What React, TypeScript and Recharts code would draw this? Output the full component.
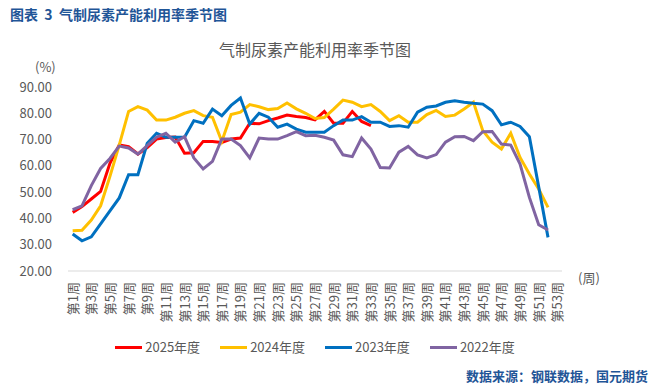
import React from 'react';
import { LineChart, Line, XAxis, YAxis } from 'recharts';

// weekly capacity utilisation (%) of gas-based urea
const weeks = Array.from({ length: 53 }, (_, i) => `第${i + 1}周`);

const y2025 = [
  42.3, 44.5, 47.4, 50.3, 61, 68, 67.3, 64.5, 67, 70.2, 70.8, 71, 64.8, 65, 69.3, 69.3, 68.9,
  70.2, 70.6, 76.2, 76, 77.2, 78.2, 79.3, 78.8, 78.4, 77.5, 80.7, 76.2, 76.2, 80.7, 76.9, 75.3,
];
const y2024 = [
  35.3, 35.5, 39.4, 44.8, 56, 68, 80.7, 82.5, 81.2, 77.4, 77.4, 78.5, 80, 81, 79.1, 78.5, 69.3,
  79.5, 80.4, 83.3, 82.5, 81.4, 81.8, 83.9, 81.7, 80, 78, 78.4, 81.6, 85, 84.2, 82.5, 83.3, 80.7,
  77.2, 79.1, 76.6, 76.6, 79.5, 81.1, 78.8, 79.3, 81.6, 84.2, 73.4, 69, 66.4, 72.4, 63.2, 56.9,
  51.2, 44.2,
];
const y2023 = [
  34.1, 31.5, 33, 37.9, 42.9, 47.8, 56.6, 56.6, 68.6, 72.4, 70.9, 70.9, 70.9, 77.2, 76.2, 81.6,
  79.1, 83, 85.8, 75.9, 80, 78.5, 74.7, 75.9, 74, 72.8, 72.8, 72.8, 75.3, 77.4, 77.4, 78.7, 76.6,
  76.6, 75, 75.3, 74.7, 80.4, 82.3, 82.8, 84.2, 84.8, 84.2, 83.8, 83.5, 81, 75.6, 76.6, 75, 71.1,
  52, 32.8,
];
const y2022 = [
  43.3, 44.8, 52.5, 59, 62.8, 67.5, 66.8, 64.5, 67.7, 70.9, 72.4, 69, 71.1, 63, 58.8, 61.7, 70.2,
  70.2, 67.7, 63, 70.6, 70.2, 70.2, 71.5, 73, 71.5, 71.6, 70.9, 69.8, 64.2, 63.5, 70.6, 66.4, 59.4,
  59.2, 65.2, 67.4, 64.2, 63, 64.3, 69, 71.1, 71.2, 69.6, 73, 73.1, 68.3, 67.9, 60.7, 48, 37.6,
  35.6,
];
const yTicks = [20, 30, 40, 50, 60, 70, 80, 90];

const series = [
  { key: 'y2025', name: '2025年度', color: '#FF0000', values: y2025 },
  { key: 'y2024', name: '2024年度', color: '#FFC000', values: y2024 },
  { key: 'y2023', name: '2023年度', color: '#0070C0', values: y2023 },
  { key: 'y2022', name: '2022年度', color: '#8064A2', values: y2022 },
];

const data = weeks.map((week, i) => {
  const row: Record<string, string | number | null> = { week };
  series.forEach((s) => {
    row[s.key] = i < s.values.length ? s.values[i] : null;
  });
  return row;
});

const FONT = '"Noto Sans CJK SC", "Noto Sans", sans-serif';
const GREY = '#595959';
const BLUE_TEXT = '#1F5597';

const WeekTick = (props: any) => {
  const { x, y, payload } = props;
  return (
    <text
      transform={`translate(${x + 5},${y + 3}) rotate(-90)`}
      textAnchor="end"
      fontSize={13}
      fontFamily={FONT}
      fill={GREY}
    >
      {payload.value}
    </text>
  );
};

const abs = (top: number, left: number, size: number, color: string, extra = {}) => ({
  position: 'absolute' as const,
  top,
  left,
  fontSize: size,
  lineHeight: `${size}px`,
  color,
  fontFamily: FONT,
  whiteSpace: 'pre' as const,
  ...extra,
});

export default function App() {
  return (
    <div style={{ position: 'absolute', top: 0, left: 0, width: 658, height: 385, background: '#fff' }}>
      <div style={abs(7, 10, 14, BLUE_TEXT, { fontWeight: 'bold' })}>图表  3  气制尿素产能利用率季节图</div>
      <div style={abs(41, 0, 16, GREY, { width: 630, textAlign: 'center' })}>气制尿素产能利用率季节图</div>
      <div style={abs(60, 35, 13, GREY)}>(%)</div>
      <div style={abs(271, 578, 13, GREY)}>(周)</div>

      <LineChart
        width={658}
        height={385}
        data={data}
        margin={{ top: 87, right: 96, bottom: 84, left: 8 }}
      >
        <XAxis
          dataKey="week"
          interval={1}
          height={30}
          tickLine={false}
          axisLine={{ stroke: '#D9D9D9' }}
          padding={{ left: 4.66, right: 4.66 }}
          tick={<WeekTick />}
        />
        <YAxis
          domain={[20, 90]}
          ticks={yTicks}
          width={60}
          axisLine={false}
          tickLine={false}
          tickMargin={10}
          tickFormatter={(v: number) => v.toFixed(2)}
          tick={{ fontSize: 13, fill: GREY, fontFamily: FONT }}
        />
        {series.map((s) => (
          <Line
            key={s.key}
            type="linear"
            dataKey={s.key}
            name={s.name}
            stroke={s.color}
            strokeWidth={3}
            dot={false}
            isAnimationActive={false}
            connectNulls={false}
          />
        ))}
      </LineChart>

      <div
        style={{
          position: 'absolute',
          top: 339,
          left: 68,
          width: 494,
          display: 'flex',
          justifyContent: 'center',
          fontFamily: FONT,
          fontSize: 13,
          color: GREY,
        }}
      >
        {series.map((s, i) => (
          <div
            key={s.key}
            style={{ display: 'flex', alignItems: 'center', marginRight: i < series.length - 1 ? 20 : 0 }}
          >
            <span style={{ display: 'inline-block', width: 27, height: 3, background: s.color, marginRight: 3 }} />
            <span style={{ lineHeight: '16px' }}>{s.name}</span>
          </div>
        ))}
      </div>

      <div style={abs(369, 0, 13, BLUE_TEXT, { width: 648, textAlign: 'right', fontWeight: 'bold' })}>
        数据来源：钢联数据，国元期货
      </div>
    </div>
  );
}
